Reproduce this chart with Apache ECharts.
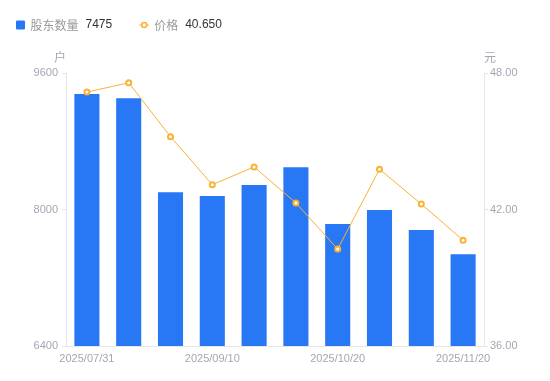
<!DOCTYPE html>
<html>
<head>
<meta charset="utf-8">
<script src="https://cdn.jsdelivr.net/npm/echarts@6/dist/echarts.min.js"></script>
<style>
  html, body { margin: 0; padding: 0; background: #fff; }
  #chart { width: 550px; height: 381px; }
</style>
</head>
<body>
<div id="chart"></div>
<script>
// 日期
const dates = [
  '2025/07/31', '2025/08/10', '2025/08/20', '2025/09/10', '2025/09/20',
  '2025/09/30', '2025/10/20', '2025/10/31', '2025/11/10', '2025/11/20'
];
// 股东数量 (户)
const holders = [9354, 9303, 8202, 8158, 8287, 8495, 7830, 7994, 7760, 7475];
// 价格 (元)
const prices = [47.16, 47.57, 45.20, 43.09, 43.87, 42.29, 40.26, 43.77, 42.24, 40.65];

const chart = echarts.init(document.getElementById('chart'), null, { renderer: 'canvas' });

const lastHolder = holders[holders.length - 1];
const lastPrice = prices[prices.length - 1];

// legend icons: small rounded square, and a short line with a ring on it
const squareIcon = 'path://M1,0h7a1,1 0 0 1 1,1v7a1,1 0 0 1 -1,1h-7a1,1 0 0 1 -1,-1v-7a1,1 0 0 1 1,-1z';
const lineRingIcon = 'path://M0,4h2v1h-2z M8,4h2v1h-2z'
  + ' M8.3,4.5A3.3,3.3 0 1 1 1.7,4.5A3.3,3.3 0 1 1 8.3,4.5z'
  + ' M6.7,4.5A1.7,1.7 0 1 0 3.3,4.5A1.7,1.7 0 1 0 6.7,4.5z';

const option = {
  animation: false,
  backgroundColor: '#fff',
  legend: {
    left: 11,
    top: 14,
    itemGap: 27,
    itemWidth: 10,
    itemHeight: 9,
    textStyle: {
      fontFamily: 'Noto Sans CJK SC',
      fontSize: 12,
      rich: {
        n: { color: '#999', fontSize: 12, fontFamily: 'Noto Sans CJK SC' },
        v: { color: '#333', fontSize: 12, fontFamily: 'Liberation Sans', padding: [0, 0, 0, 7] }
      }
    },
    formatter: (name) => {
      const v = name === '股东数量' ? lastHolder : lastPrice.toFixed(3);
      return `{n|${name}}{v|${v}}`;
    },
    data: [
      { name: '股东数量', icon: squareIcon },
      { name: '价格', icon: lineRingIcon, itemStyle: { color: '#f9b234', borderWidth: 0 } }
    ]
  },
  grid: {
    left: 66,
    right: 66,
    top: 73,
    bottom: 35
  },
  xAxis: {
    type: 'category',
    data: dates,
    axisLine: { lineStyle: { color: '#e6e6e6' } },
    axisTick: { show: false },
    axisLabel: {
      color: '#a3a7b3',
      fontSize: 11,
      interval: 2,
      margin: 7,
      fontFamily: 'Liberation Sans'
    }
  },
  yAxis: [
    {
      type: 'value',
      name: '户',
      min: 6400,
      max: 9600,
      interval: 1600,
      nameGap: 10,
      nameTextStyle: { color: '#a3a7b3', fontSize: 12, align: 'right', fontFamily: 'Noto Sans CJK SC' },
      axisLine: { show: true, lineStyle: { color: '#e6e6e6' } },
      axisTick: { show: true, length: 4, lineStyle: { color: '#e6e6e6' } },
      axisLabel: {
        color: '#a3a7b3',
        fontSize: 11,
        margin: 8,
        fontFamily: 'Liberation Sans',
        formatter: (v) => String(v)
      },
      splitLine: { show: false }
    },
    {
      type: 'value',
      name: '元',
      min: 36,
      max: 48,
      interval: 6,
      nameGap: 10,
      nameTextStyle: { color: '#a3a7b3', fontSize: 12, align: 'left', fontFamily: 'Noto Sans CJK SC' },
      axisLine: { show: true, lineStyle: { color: '#e6e6e6' } },
      axisTick: { show: true, length: 4, lineStyle: { color: '#e6e6e6' } },
      axisLabel: {
        color: '#a3a7b3',
        fontSize: 11,
        margin: 6,
        fontFamily: 'Liberation Sans',
        formatter: (v) => v.toFixed(2)
      },
      splitLine: { show: false }
    }
  ],
  series: [
    {
      name: '股东数量',
      type: 'bar',
      barWidth: '60%',
      yAxisIndex: 0,
      data: holders,
      itemStyle: { color: '#2878f5' }
    },
    {
      name: '价格',
      type: 'line',
      yAxisIndex: 1,
      data: prices,
      symbol: 'emptyCircle',
      symbolSize: 5,
      lineStyle: { color: '#f9b234', width: 1 },
      itemStyle: { color: '#f9b234', borderWidth: 2 }
    }
  ]
};

chart.setOption(option);
window.addEventListener('resize', () => chart.resize());
</script>
</body>
</html>
